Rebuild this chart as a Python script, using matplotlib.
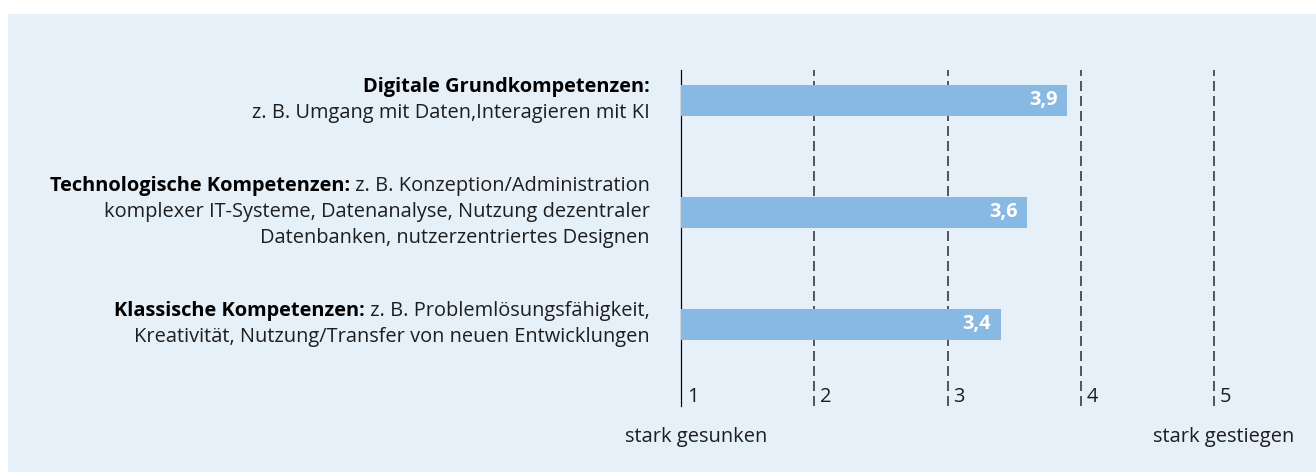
import matplotlib.pyplot as plt
from matplotlib.patches import Rectangle

plt.rcParams["font.family"] = ["Open Sans", "DejaVu Sans"]
plt.rcParams["lines.scale_dashes"] = False

# --- Data ---
values = [3.9, 3.6, 3.4]
value_labels = ["3,9", "3,6", "3,4"]
# each line: (bold part, regular part)
label_lines = [
    [("Digitale Grundkompetenzen:", ""),
     ("", "z. B. Umgang mit Daten,Interagieren mit KI")],
    [("Technologische Kompetenzen:", " z. B. Konzeption/Administration"),
     ("", "komplexer IT-Systeme, Datenanalyse, Nutzung dezentraler"),
     ("", "Datenbanken, nutzerzentriertes Designen")],
    [("Klassische Kompetenzen:", " z. B. Problemlösungsfähigkeit,"),
     ("", "Kreativität, Nutzung/Transfer von neuen Entwicklungen")],
]
scale_ticks = [1, 2, 3, 4, 5]
scale_ends = ["stark gesunken", "stark gestiegen"]

W, H = 1316, 472
DPI = 72
FS = 20
bg = "#e6f0f9"
bar_color = "#88b9e3"

fig = plt.figure(figsize=(W / DPI, H / DPI), dpi=DPI)
fig.patch.set_facecolor("white")
fig.add_artist(Rectangle((8 / W, 0), 1 - 8 / W, (H - 14) / H,
                         transform=fig.transFigure, color=bg, zorder=0))

ax = fig.add_axes([681 / W, 66 / H, 533 / W, 336 / H])
ax.set_facecolor("none")
ax.set_xlim(1, 5)
ax.set_ylim(2.728, -0.272)
ax.axis("off")

# --- Grid lines ---
ax.axvline(1, color="black", lw=1.2, zorder=1, clip_on=False)
for t in scale_ticks[1:]:
    ax.axvline(t, color="#333333", lw=1.6, dashes=(10, 5), zorder=1,
               clip_on=False)

# --- Bars ---
ypos = list(range(len(values)))
ax.barh(ypos, [v - 1 for v in values], left=1, height=0.277,
        color=bar_color, zorder=2)
for y, v, lab in zip(ypos, values, value_labels):
    ax.annotate(lab, xy=(v, y), xytext=(-10, 0), textcoords="offset pixels",
                ha="right", va="center", color="white", fontweight="bold",
                fontsize=FS, zorder=3)

# --- Tick numbers ---
for t in scale_ticks:
    ax.annotate(str(t), xy=(t, 2.728), xytext=(6, 9), textcoords="offset pixels",
                ha="left", va="center", fontsize=FS, color="#1e1e1e",
                annotation_clip=False)

# --- Category labels (mixed bold/regular, right aligned) ---
renderer = fig.canvas.get_renderer()
x_right = 650 / W
line_gap = 26
for y, lines in zip(ypos, label_lines):
    n = len(lines)
    for i, (bold, reg) in enumerate(lines):
        dy = -(i - (n - 1) / 2) * line_gap
        width = 0
        if reg:
            t = ax.annotate(reg, xy=(x_right, y), xycoords=("figure fraction", "data"),
                            xytext=(0, dy), textcoords="offset pixels",
                            ha="right", va="center", fontsize=FS, color="#1e1e1e",
                            annotation_clip=False)
            width = t.get_window_extent(renderer).width
        if bold:
            ax.annotate(bold, xy=(x_right, y), xycoords=("figure fraction", "data"),
                        xytext=(-width, dy), textcoords="offset pixels",
                        ha="right", va="center", fontsize=FS, fontweight="bold",
                        color="black", annotation_clip=False)

# --- Scale end labels ---
fig.text(625 / W, (H - 437) / H, scale_ends[0], ha="left", va="center",
         fontsize=FS, color="#1e1e1e")
fig.text(1294 / W, (H - 437) / H, scale_ends[1], ha="right", va="center",
         fontsize=FS, color="#1e1e1e")

fig.savefig("out.png", dpi=DPI, facecolor=fig.get_facecolor())
